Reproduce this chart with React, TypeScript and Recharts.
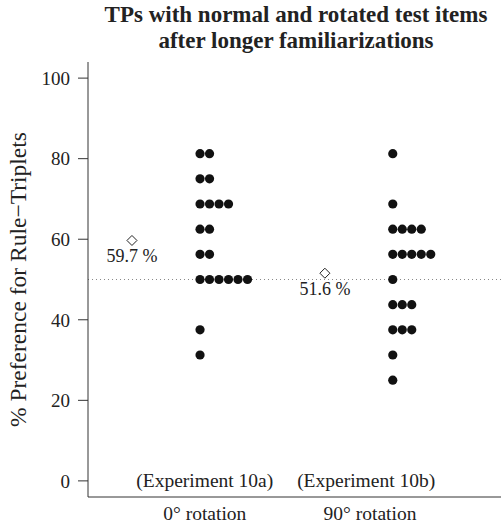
import React from "react"
import {
  ScatterChart,
  Scatter,
  XAxis,
  YAxis,
  ReferenceLine,
} from "recharts"

// individual TP scores per condition (% preference for rule-triplets)
const rot0Scores = [
  81.25, 81.25, 75, 75, 68.75, 68.75, 68.75, 68.75, 62.5, 62.5,
  56.25, 56.25, 50, 50, 50, 50, 50, 50, 37.5, 31.25,
]
const rot90Scores = [
  81.25, 68.75, 62.5, 62.5, 62.5, 62.5, 56.25, 56.25, 56.25, 56.25,
  56.25, 50, 43.75, 43.75, 43.75, 37.5, 37.5, 37.5, 31.25, 25,
]
const categories = ["0° rotation", "90° rotation"]
const experiments = ["(Experiment 10a)", "(Experiment 10b)"]
const yTicks = [0, 20, 40, 60, 80, 100]
const chance = 50

// horizontal layout in "dot step" units
const dotBase = [11.8, 32.1]
const meanX = [4.63, 24.95]
const catX = [12.3, 29.7]
const expX = [12.3, 29.3]

const FONT = "'Liberation Serif', 'DejaVu Serif', serif"
const INK = "#222"

function stack(scores: number[], base: number) {
  const seen: Record<string, number> = {}
  return scores.map((v) => {
    const k = String(v)
    const i = seen[k] ?? 0
    seen[k] = i + 1
    return { x: base + i, y: v }
  })
}

const mean = (a: number[]) => a.reduce((s, v) => s + v, 0) / a.length

const groups = [rot0Scores, rot90Scores]
const dotData = groups.map((g, i) => stack(g, dotBase[i]))
const meanData = groups.map((g, i) => ({
  x: meanX[i],
  y: mean(g),
  label: mean(g).toFixed(1) + " %",
}))
const expData = experiments.map((e, i) => ({ x: expX[i], y: 0, label: e }))

const Dot = (p: any) => <circle cx={p.cx} cy={p.cy} r={4.6} fill="#111" />

const MeanMark = (p: any) => {
  const { cx, cy, payload } = p
  const s = 5
  return (
    <g>
      <path
        d={`M${cx},${cy - s} L${cx + s},${cy} L${cx},${cy + s} L${cx - s},${cy} Z`}
        fill="#fff"
        stroke="#222"
        strokeWidth={1}
      />
      <text
        x={cx}
        y={cy + 16}
        textAnchor="middle"
        dominantBaseline="central"
        fontFamily={FONT}
        fontSize={18}
        fill={INK}
      >
        {payload.label}
      </text>
    </g>
  )
}

const ExpLabel = (p: any) => (
  <text
    x={p.cx}
    y={p.cy}
    textAnchor="middle"
    dominantBaseline="central"
    fontFamily={FONT}
    fontSize={19.5}
    fill={INK}
  >
    {p.payload.label}
  </text>
)

export default function App() {
  return (
    <div style={{ position: "fixed", left: 0, top: 0, width: 501, height: 526, background: "#fff" }}>
      <svg width={501} height={70} style={{ position: "absolute", left: 0, top: 0 }}>
        <text x={296} y={22} textAnchor="middle" fontFamily={FONT} fontWeight="bold" fontSize={23} fill={INK}>
          TPs with normal and rotated test items
        </text>
        <text x={296} y={48} textAnchor="middle" fontFamily={FONT} fontWeight="bold" fontSize={23} fill={INK}>
          after longer familiarizations
        </text>
      </svg>
      <ScatterChart
        width={501}
        height={526}
        margin={{ top: 62, right: 0, bottom: 0, left: 0 }}
        style={{ position: "absolute", left: 0, top: 0 }}
      >
        <XAxis
          type="number"
          dataKey="x"
          domain={[0, 43.5]}
          ticks={catX}
          interval={0}
          height={29}
          tickFormatter={(v: number) => categories[catX.indexOf(v)] ?? ""}
          tickLine={false}
          tickSize={0}
          tickMargin={9}
          stroke="#333"
          tick={{ fontFamily: FONT, fontSize: 19.5, fill: INK }}
          allowDataOverflow
        />
        <YAxis
          type="number"
          dataKey="y"
          domain={[-4, 104]}
          ticks={yTicks}
          interval={0}
          width={88}
          tickSize={10}
          tickMargin={8}
          stroke="#333"
          tick={{ fontFamily: FONT, fontSize: 19, fill: INK }}
          allowDataOverflow
          label={{
            value: "% Preference for Rule\u2212Triplets",
            angle: -90,
            position: "insideLeft",
            offset: 18,
            style: { textAnchor: "middle", fontFamily: FONT, fontSize: 23.5, fill: INK },
          }}
        />
        <ReferenceLine y={chance} stroke="#888" strokeDasharray="1 3" />
        {dotData.map((d, i) => (
          <Scatter key={i} data={d} shape={Dot} isAnimationActive={false} />
        ))}
        <Scatter data={meanData} shape={MeanMark} isAnimationActive={false} />
        <Scatter data={expData} shape={ExpLabel} isAnimationActive={false} />
      </ScatterChart>
    </div>
  )
}
